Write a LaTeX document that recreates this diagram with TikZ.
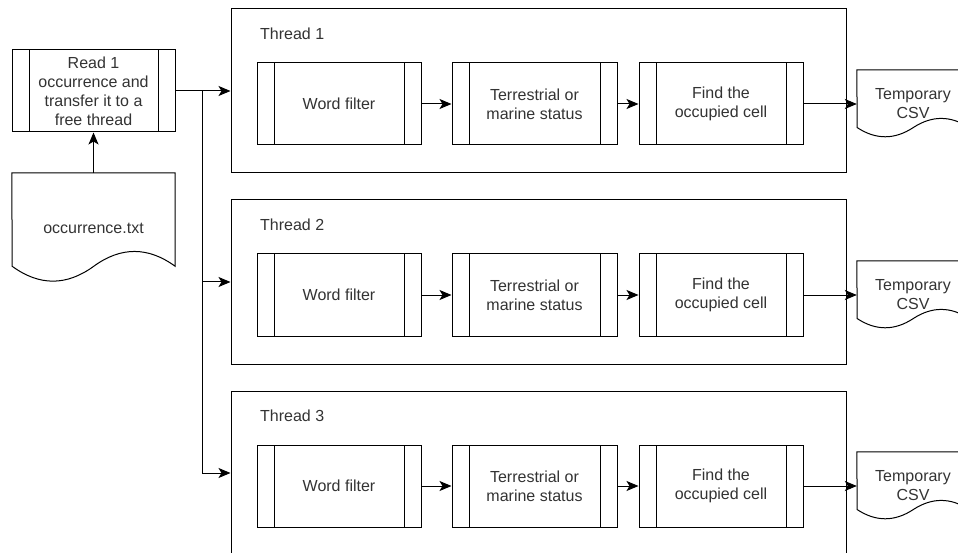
\documentclass[tikz,border=0pt]{standalone}
\usepackage{fontspec}
\setmainfont{Liberation Sans}
\usetikzlibrary{arrows.meta,calc}

% Outline of a "document" shape with a wavy lower edge:
% #1 node name, #2 width, #3 height (in picture units)
\newcommand{\docoutline}[3]{%
  \draw[shapeline] (#1.north west) -- (#1.north east) -- ++(0,{0.85*#3})
    .. controls +({-#2/6},{-0.18*#3}) and +({#2/6},{-0.18*#3}) .. ++({-#2/2},0)
    .. controls +({-#2/6},{0.18*#3}) and +({#2/6},{0.18*#3}) .. ++({-#2/2},0)
    -- cycle;%
}

\begin{document}
\begin{tikzpicture}[x=1pt,y=-1pt,
  every node/.style={font=\fontsize{16pt}{19pt}\selectfont, text=black!80},
  shapeline/.style={draw=black, line width=1pt},
  arr/.style={draw=black, line width=1pt,
    -{Stealth[length=12pt,width=10pt,inset=3pt]}},
  procbox/.style={shapeline, fill=white, minimum width=#1, minimum height=82pt,
    inner sep=0pt, align=center,
    path picture={
      \draw[line width=1pt]
        ([xshift=17pt]path picture bounding box.north west) --
        ([xshift=17pt]path picture bounding box.south west);
      \draw[line width=1pt]
        ([xshift=-17pt]path picture bounding box.north east) --
        ([xshift=-17pt]path picture bounding box.south east);
    }},
  threadbox/.style={shapeline, minimum width=615pt, minimum height=164pt,
    inner sep=0pt},
  docnode/.style={inner sep=0pt, align=center},
  tlabel/.style={anchor=west, inner sep=0pt},
]
\useasboundingbox (0,0) rectangle (958,553);
\clip (0,0) rectangle (958,553);

% input file and the dispatcher
\node[procbox=163pt] (read) at (93.5,91)
  {Read 1\\occurrence and\\transfer it to a\\free thread};
\node[docnode, minimum width=163pt, minimum height=110pt] (occ) at (93.5,228)
  {occurrence.txt};
\docoutline{occ}{163}{110}
\draw[arr] (occ.north) -- (read.south);

% the three worker threads
\foreach \i/\dy in {1/0, 2/191, 3/382} {
  \node[threadbox] (t\i) at (538.5,91+\dy) {};
  \node[tlabel] (tlbl\i) at (260,34+\dy) {Thread \i};
  \node[procbox=164pt] (wf\i) at (339,104+\dy) {Word filter};
  \node[procbox=165pt] (ts\i) at (534.5,104+\dy) {Terrestrial or\\marine status};
  \node[procbox=164pt] (fc\i) at (721,104+\dy) {Find the\\occupied cell};
  \node[docnode, minimum width=112pt, minimum height=68pt] (csv\i)
    at (913,104+\dy) {Temporary\\CSV};
  \docoutline{csv\i}{112}{68}
  \draw[arr] (wf\i) -- (ts\i);
  \draw[arr] (ts\i) -- (fc\i);
  \draw[arr] (fc\i) -- (csv\i);
}

% fan-out from the dispatcher to the threads
\coordinate (split) at (202,91);
\draw[arr] (read.east) -- (t1.west);
\draw[arr] (split) |- (t2.west);
\draw[arr] (split) |- (t3.west);
\end{tikzpicture}
\end{document}
